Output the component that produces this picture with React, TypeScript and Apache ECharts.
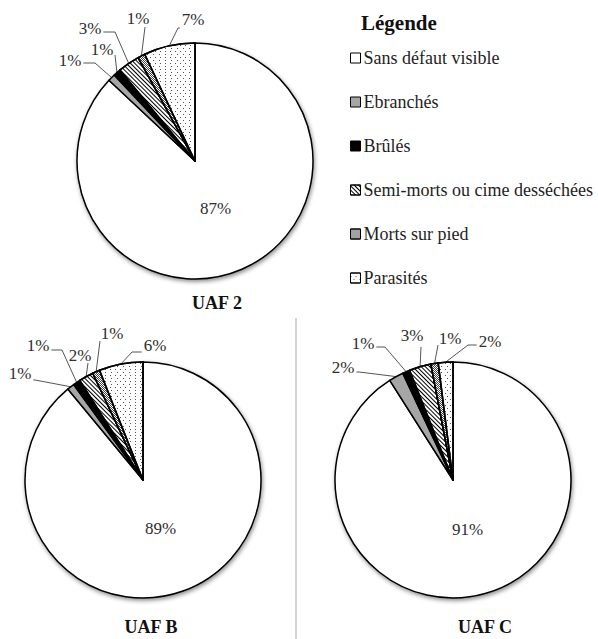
import React, { useEffect, useRef } from "react";
import * as echarts from "echarts";

// ---- Data -----------------------------------------------------------------
const categories = [
  "Sans défaut visible",
  "Ebranchés",
  "Brûlés",
  "Semi-morts ou cime desséchées",
  "Morts sur pied",
  "Parasités",
];
const uaf2Values = [87, 1, 1, 3, 1, 7];
const uafBValues = [89, 1, 1, 2, 1, 6];
const uafCValues = [91, 2, 1, 3, 1, 2];
const pieNames = ["UAF 2", "UAF B", "UAF C"];
const legendTitle = "Légende";

// ---- Layout ---------------------------------------------------------------
const FONT = "Liberation Serif";
const PIE_RADIUS = 118;

// label placement for the small slices: [labelDx, labelDy, elbowDx, elbowDy]
// relative to the pie centre (index 0 = big slice, placed inside)
type LabelSpot = [number, number, number, number] | null;
const pieLayouts: {
  center: [number, number];
  title: [number, number];
  spots: LabelSpot[];
}[] = [
  {
    center: [195, 161],
    title: [217, 303],
    spots: [
      null,
      [-125, -101, -100, -98],
      [-93, -112, -80, -106],
      [-105, -133, -80, -129],
      [-57, -143, -50, -134],
      [-2, -142, -17, -133],
    ],
  },
  {
    center: [143, 480],
    title: [151, 627],
    spots: [
      null,
      [-123, -107, -108, -100],
      [-105, -135, -81, -130],
      [-63, -125, -55, -117],
      [-31, -147, -43, -139],
      [12, -135, -11, -128],
    ],
  },
  {
    center: [453, 480],
    title: [485, 627],
    spots: [
      null,
      [-110, -113, -94, -108],
      [-90, -137, -68, -133],
      [-41, -145, -32, -133],
      [-3, -142, -15, -135],
      [37, -139, 15, -135],
    ],
  },
];

// ---- Styles per category ----------------------------------------------------
const categoryStyles: any[] = [
  {
    color: "#ffffff",
    shadowBlur: 4,
    shadowOffsetX: 1,
    shadowOffsetY: 2,
    shadowColor: "rgba(0,0,0,0.45)",
  },
  { color: "#a6a6a6" },
  { color: "#000000" },
  {
    color: "#ffffff",
    decal: {
      symbol: "rect",
      symbolSize: 1,
      color: "#000",
      dashArrayX: [1, 0],
      dashArrayY: [1, 2],
      rotation: Math.PI / 4,
    },
  },
  {
    color: "#ffffff",
    decal: {
      symbol: "rect",
      symbolSize: 1,
      color: "#444",
      dashArrayX: [
        [1, 1],
        [0, 1, 1, 0],
      ],
      dashArrayY: [1, 0],
      rotation: 0,
    },
  },
  {
    color: "#ffffff",
    decal: {
      symbol: "rect",
      symbolSize: 1,
      color: "#555",
      dashArrayX: [
        [1, 4],
        [0, 2.5, 1, 1.5],
      ],
      dashArrayY: [1, 1.5],
      rotation: 0,
    },
  },
];

const seriesValues = [uaf2Values, uafBValues, uafCValues];

function midAngles(values: number[]): number[] {
  const total = values.reduce((a, b) => a + b, 0);
  let acc = 0;
  return values.map((v) => {
    const mid = 90 - (360 * (acc + v / 2)) / total;
    acc += v;
    return (mid * Math.PI) / 180;
  });
}

function makeLabelLayout(pieIndex: number) {
  const { center, spots } = pieLayouts[pieIndex];
  const angles = midAngles(seriesValues[pieIndex]);
  const [cx, cy] = center;
  return (params: any) => {
    const i = params.dataIndex;
    const a = angles[i];
    const spot = spots[i];
    if (!spot) {
      const r = PIE_RADIUS * 0.44;
      return {
        x: cx + r * Math.cos(a),
        y: cy - r * Math.sin(a),
        align: "center",
        verticalAlign: "middle",
      };
    }
    const [ldx, ldy, edx, edy] = spot;
    const lx = cx + ldx;
    const ly = cy + ldy;
    const w = params.labelRect ? params.labelRect.width : 22;
    const edge = [cx + PIE_RADIUS * Math.cos(a), cy - PIE_RADIUS * Math.sin(a)];
    const elbow = [cx + edx, cy + edy];
    let end = elbow;
    if (elbow[0] < lx - w / 2 - 3) end = [lx - w / 2 - 2, elbow[1]];
    else if (elbow[0] > lx + w / 2 + 3) end = [lx + w / 2 + 2, elbow[1]];
    return {
      x: lx,
      y: ly,
      align: "center",
      verticalAlign: "middle",
      labelLinePoints: [edge, elbow, end],
    };
  };
}

function buildSeries(pieIndex: number): any {
  const values = seriesValues[pieIndex];
  return {
    type: "pie",
    name: pieNames[pieIndex],
    center: pieLayouts[pieIndex].center,
    radius: [0, PIE_RADIUS],
    startAngle: 90,
    clockwise: true,
    avoidLabelOverlap: false,
    silent: true,
    emphasis: { disabled: true },
    itemStyle: { borderColor: "#000", borderWidth: 1.5, borderJoin: "round" },
    label: {
      show: true,
      position: "outside",
      formatter: (p: any) => p.value + "%",
      fontFamily: FONT,
      fontSize: 17,
      color: "#2e2e2e",
    },
    labelLine: {
      show: true,
      lineStyle: { color: "#555", width: 1 },
    },
    labelLayout: makeLabelLayout(pieIndex),
    data: values.map((v, i) => ({
      name: categories[i],
      value: v,
      itemStyle: categoryStyles[i],
      ...(i === 0
        ? { label: { position: "inside" }, labelLine: { show: false } }
        : {}),
    })),
  };
}

export default function App() {
  const ref = useRef<HTMLDivElement>(null);

  useEffect(() => {
    if (!ref.current) return;
    const chart = echarts.init(ref.current, undefined, { renderer: "svg" });
    chart.setOption({
      animation: false,
      backgroundColor: "#ffffff",
      textStyle: { fontFamily: FONT },
      title: [
        {
          text: legendTitle,
          left: 361,
          top: 12,
          padding: 0,
          textStyle: {
            fontFamily: FONT,
            fontSize: 21,
            fontWeight: "bold",
            color: "#111",
          },
        },
        ...pieNames.map((n, k) => ({
          text: n,
          left: pieLayouts[k].title[0],
          top: pieLayouts[k].title[1] - 9,
          padding: 0,
          textAlign: "center",
          textStyle: {
            fontFamily: FONT,
            fontSize: 18,
            fontWeight: "bold",
            color: "#111",
          },
        })),
      ],
      legend: {
        orient: "vertical",
        left: 350,
        top: 49,
        padding: 0,
        itemWidth: 10,
        itemHeight: 10,
        itemGap: 26,
        icon: "rect",
        selectedMode: false,
        data: categories,
        itemStyle: { borderColor: "#000", borderWidth: 1 },
        textStyle: {
          fontFamily: FONT,
          fontSize: 18,
          color: "#1e1e1e",
          padding: [0, 0, 0, -2],
        },
      },
      graphic: [
        {
          type: "line",
          shape: { x1: 296, y1: 318, x2: 296, y2: 639 },
          style: { stroke: "#a8a8a8", lineWidth: 1 },
          silent: true,
        },
      ],
      series: [buildSeries(0), buildSeries(1), buildSeries(2)],
    });
    return () => chart.dispose();
  }, []);

  return (
    <div
      ref={ref}
      style={{ position: "absolute", left: 0, top: 0, width: 598, height: 639 }}
    />
  );
}
